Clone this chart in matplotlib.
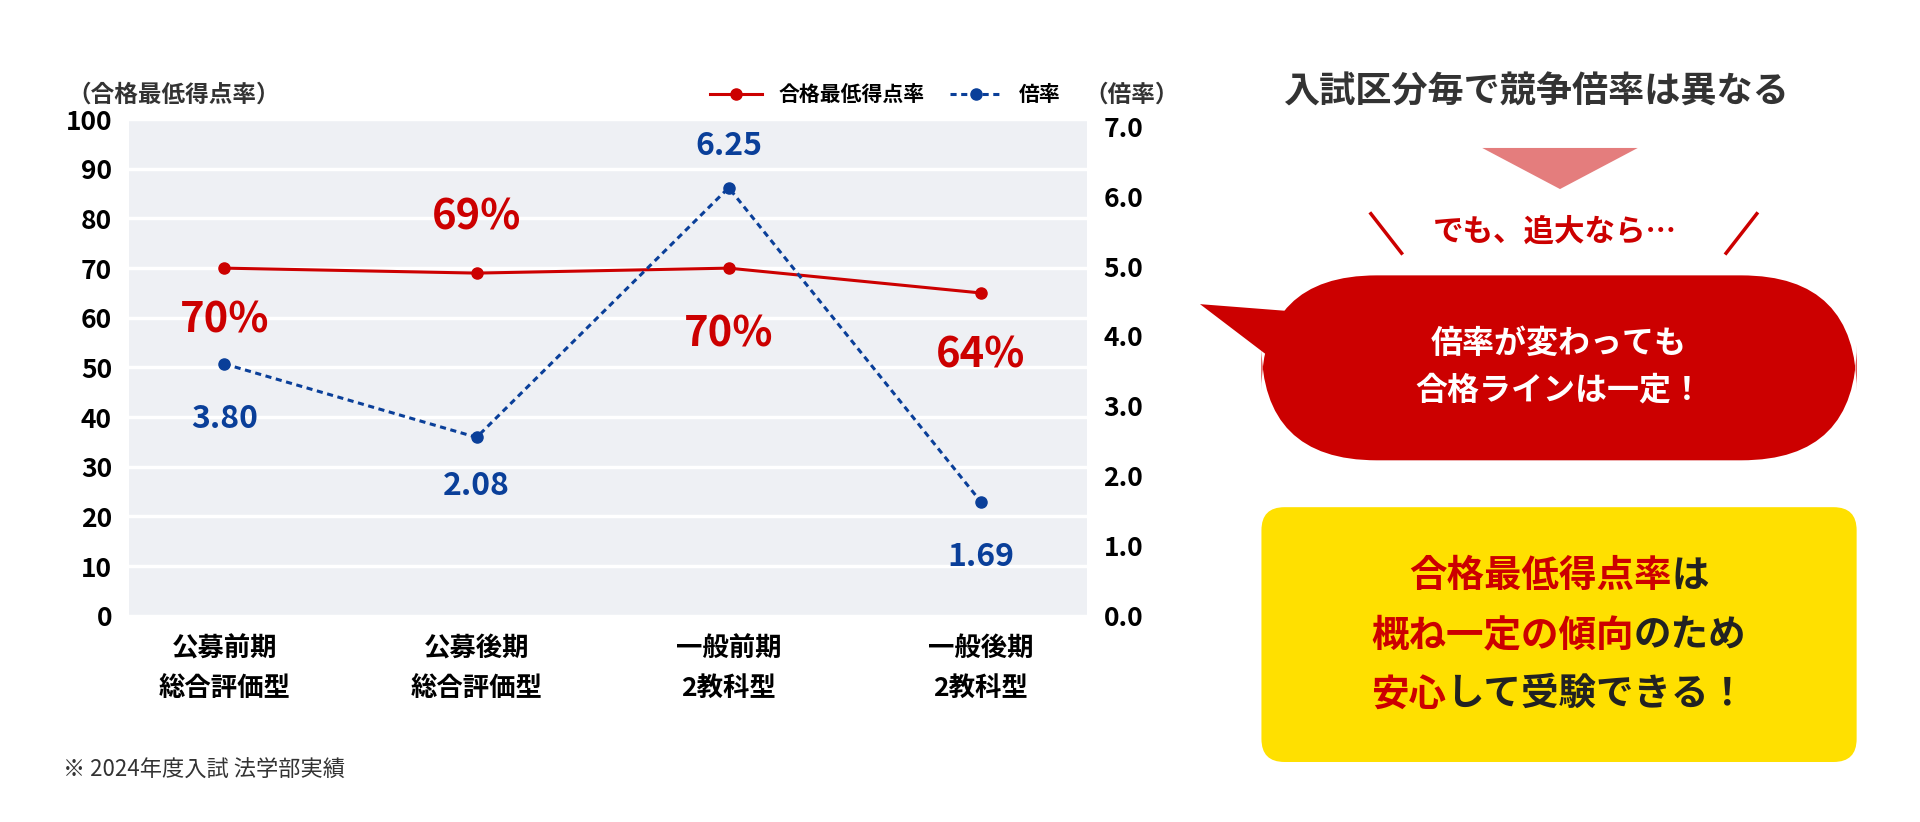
import matplotlib
matplotlib.use("Agg")
import matplotlib.pyplot as plt
from matplotlib.patches import FancyBboxPatch, Polygon, Ellipse

plt.rcParams['font.family'] = ['Noto Sans CJK JP', 'DejaVu Sans']

categories = ["公募前期\n総合評価型", "公募後期\n総合評価型", "一般前期\n2教科型", "一般後期\n2教科型"]
score = [70, 69, 70, 65]
score_labels = ["70%", "69%", "70%", "64%"]
rate = [3.6, 2.55, 6.12, 1.63]
rate_labels = ["3.80", "2.08", "6.25", "1.69"]

RED = "#cc0000"
BLUE = "#0a3f99"

fig = plt.figure(figsize=(19.2, 8.22), dpi=100)
ax = fig.add_axes([0.067, 0.251, 0.499, 0.604])
ax.set_facecolor("#eef0f4")
x = range(len(categories))
ax.plot(x, score, color=RED, lw=2.2, marker="o", ms=8, label="合格最低得点率")
ax.set_xlim(-0.38, 3.42)
ax.set_ylim(0, 100)
ax.set_yticks(range(0, 101, 10))
ax.set_xticks(list(x))
ax.set_xticklabels(categories, fontsize=21, fontweight="bold", linespacing=1.6)
ax.tick_params(length=0, labelsize=19, pad=12)
ax.tick_params(axis="x", pad=14)
for t in ax.get_yticklabels():
    t.set_fontweight("bold")
ax.grid(axis="y", color="white", lw=2.5)
ax.set_axisbelow(True)
for s in ax.spines.values():
    s.set_visible(False)

ax2 = ax.twinx()
ax2.plot(x, rate, color=BLUE, lw=2.2, ls=(0, (2, 1.5)), marker="o", ms=8, label="倍率")
ax2.set_ylim(0, 7.1)
ax2.set_yticks([i for i in range(8)])
ax2.set_yticklabels([f"{i:.1f}" for i in range(8)])
ax2.tick_params(length=0, labelsize=19, pad=12)
for t in ax2.get_yticklabels():
    t.set_fontweight("bold")
for s in ax2.spines.values():
    s.set_visible(False)

score_off = [(0, -38), (0, 40), (0, -48), (0, -45)]
for i, (v, lab) in enumerate(zip(score, score_labels)):
    ax.annotate(lab, (i, v), xytext=score_off[i], textcoords="offset points",
                ha="center", va="center", fontsize=30, fontweight="bold", color=RED)
rate_off = [(0, -40), (0, -35), (0, 30), (0, -40)]
for i, (v, lab) in enumerate(zip(rate, rate_labels)):
    ax2.annotate(lab, (i, v), xytext=rate_off[i], textcoords="offset points",
                 ha="center", va="center", fontsize=23, fontweight="bold", color=BLUE)

fig.text(0.035, 0.885, "（合格最低得点率）", fontsize=17, fontweight="bold", color="#333333", va="center")
fig.text(0.565, 0.885, "（倍率）", fontsize=17, fontweight="bold", color="#333333", va="center")
h1, l1 = ax.get_legend_handles_labels()
h2, l2 = ax2.get_legend_handles_labels()
fig.legend(h1 + h2, l1 + l2, loc="center right", bbox_to_anchor=(0.562, 0.885), ncol=2,
           frameon=False, prop={"size": 15, "weight": "bold"}, handlelength=2.5, columnspacing=1.2)
fig.text(0.033, 0.063, "※ 2024年度入試 法学部実績", fontsize=16, color="#333333", va="center")

# right panel
fig.text(0.8, 0.888, "入試区分毎で競争倍率は異なる", fontsize=26, fontweight="bold", color="#333333",
         ha="center", va="center")
fig.patches.append(Polygon([[0.772, 0.82], [0.853, 0.82], [0.8125, 0.77]], closed=True,
                           transform=fig.transFigure, fc="#e47d7d", ec="none"))
fig.text(0.81, 0.718, "でも、追大なら…", fontsize=22, fontweight="bold", color=RED, ha="center", va="center")
fig.lines.append(plt.Line2D([0.714, 0.73], [0.74, 0.692], transform=fig.transFigure, color=RED, lw=2.5))
fig.lines.append(plt.Line2D([0.915, 0.899], [0.74, 0.692], transform=fig.transFigure, color=RED, lw=2.5))
fig.patches.append(FancyBboxPatch((0.657, 0.44), 0.31, 0.225, boxstyle="round,pad=0,rounding_size=0.06",
                                  mutation_aspect=1920 / 822, transform=fig.transFigure, fc=RED, ec="none"))
fig.patches.append(Polygon([[0.625, 0.63], [0.68, 0.62], [0.67, 0.55]], closed=True,
                           transform=fig.transFigure, fc=RED, ec="none"))
fig.text(0.812, 0.553, "倍率が変わっても\n合格ラインは一定！", fontsize=23, fontweight="bold", color="white",
         ha="center", va="center", linespacing=1.6)
fig.patches.append(FancyBboxPatch((0.657, 0.073), 0.31, 0.31, boxstyle="round,pad=0,rounding_size=0.012",
                                  mutation_aspect=1920 / 822, transform=fig.transFigure, fc="#ffe000", ec="none"))

lines = [[("合格最低得点率", RED), ("は", "#222222")],
         [("概ね一定の傾向", RED), ("のため", "#222222")],
         [("安心", RED), ("して受験できる！", "#222222")]]
fig.canvas.draw()
r = fig.canvas.get_renderer()
for j, runs in enumerate(lines):
    y = 0.3 - j * 0.072
    pieces = [fig.text(0, y, s, fontsize=27, fontweight="bold", color=c, va="center") for s, c in runs]
    widths = [p.get_window_extent(r).width / fig.bbox.width for p in pieces]
    xs = 0.812 - sum(widths) / 2
    for p, w in zip(pieces, widths):
        p.set_x(xs)
        xs += w

fig.savefig("out.png", dpi=100, facecolor="white")
